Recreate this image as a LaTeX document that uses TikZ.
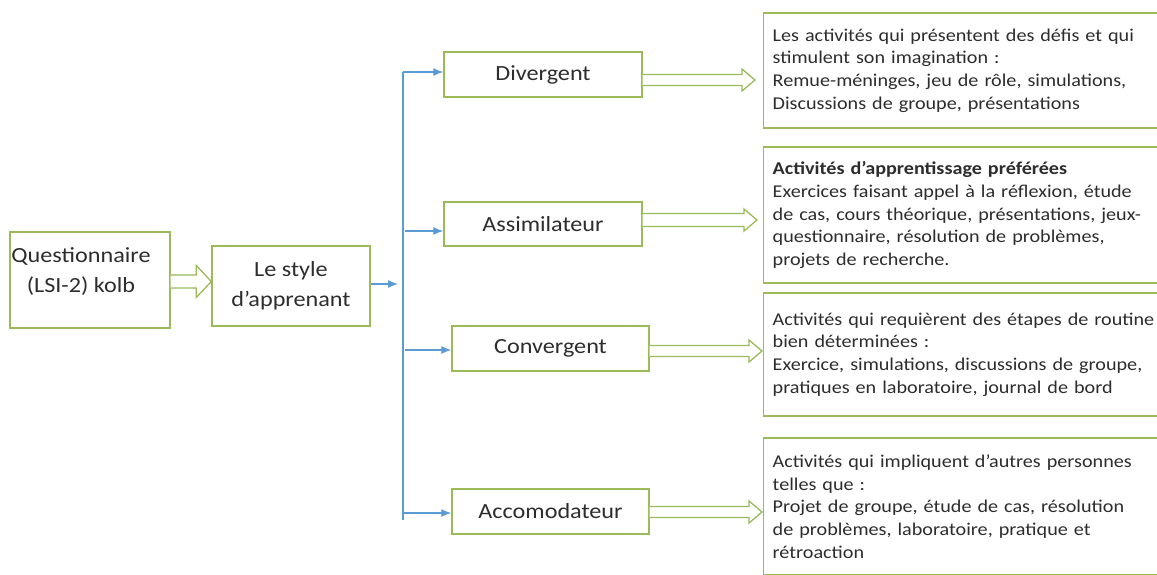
\documentclass[tikz,border=0pt]{standalone}
\usepackage{fontspec}
\setmainfont{Carlito}[FakeStretch=1.12]
\usetikzlibrary{arrows.meta,calc}
\definecolor{gline}{RGB}{155,187,89}
\definecolor{bline}{RGB}{91,155,213}
\definecolor{tcol}{RGB}{45,45,45}
\newcommand\harrow[7]{% #1 from, #2 to, #3 yshift, #4 gap, #5 shaft half, #6 head half, #7 head length
  \path[harrowline] let \p1=([yshift=#3]#1.east), \p2=(#2.west) in
    (\x1,\y1+#5pt) -- (\x2-#4pt-#7pt,\y1+#5pt) -- (\x2-#4pt-#7pt,\y1+#6pt) -- (\x2-#4pt,\y1)
    -- (\x2-#4pt-#7pt,\y1-#6pt) -- (\x2-#4pt-#7pt,\y1-#5pt) -- (\x1,\y1-#5pt);}
\begin{document}
\begin{tikzpicture}[x=1pt,y=-1pt,
  lbox/.style={draw=gline, line width=1.4pt, fill=white, text=tcol, align=center,
    font=\fontsize{21.6}{30}\selectfont, inner sep=0pt},
  ltext/.style={text=tcol, align=center, font=\fontsize{21.6}{30}\selectfont, inner sep=0pt},
  rbox/.style={draw=gline, line width=1.4pt, fill=white, text=tcol, align=left, anchor=west,
    text width=400pt, inner xsep=9pt, inner ysep=0pt,
    font=\fontsize{18}{22.7}\selectfont},
  harrowline/.style={draw=gline, line width=1.3pt, fill=white, line join=miter},
  barrow/.style={draw=bline, line width=1.3pt, -{Latex[length=10pt,width=8pt]}},
  bspine/.style={draw=bline, line width=1.3pt}]
\useasboundingbox (0,0) rectangle (1157,574);
\fill[white] (0,0) rectangle (1157,574);
\clip (0,0) rectangle (1157,574);
% left boxes
\node[lbox, minimum width=160pt, minimum height=96pt] (q) at (90,280) {};
\node[ltext] (qt) at (81,272) {Questionnaire\\(LSI-2) kolb};
\node[lbox, minimum width=158pt, minimum height=80pt] (sty) at (291,286) {Le style\\d’apprenant};
% middle boxes
\node[lbox, minimum width=198pt, minimum height=45pt] (div) at (543,74.5) {Divergent};
\node[lbox, minimum width=198pt, minimum height=44pt] (asm) at (543,224) {Assimilateur};
\node[lbox, minimum width=197pt, minimum height=45pt] (cnv) at (550.5,348.5) {Convergent};
\node[lbox, minimum width=197pt, minimum height=45pt] (acc) at (550.5,511.5) {Accomodateur};
% right boxes
\node[rbox, minimum height=115pt] (r1) at (763,70.5) {Les activités qui présentent des défis et qui\\
stimulent son imagination~:\\
Remue-méninges, jeu de rôle, simulations,\\
Discussions de groupe, présentations};
\node[rbox, minimum height=136pt] (r2) at (763,215) {\textbf{Activités d’apprentissage préférées}\\
Exercices faisant appel à la réflexion, étude\\
de cas, cours théorique, présentations, jeux-\\
questionnaire, résolution de problèmes,\\
projets de recherche.};
\node[rbox, minimum height=123pt] (r3) at (763,354.5) {Activités qui requièrent des étapes de routine\\
bien déterminées~:\\
Exercice, simulations, discussions de groupe,\\
pratiques en laboratoire, journal de bord};
\node[rbox, minimum height=137pt] (r4) at (763,506.5) {Activités qui impliquent d’autres personnes\\
telles que~:\\
Projet de groupe, étude de cas, résolution\\
de problèmes, laboratoire, pratique et\\
rétroaction};
% hollow arrows
\harrow{q}{sty}{-1.5pt}{0}{6.5}{16}{15}
\harrow{div}{r1}{-5.5pt}{8}{5.5}{11}{13}
\harrow{asm}{r2}{4pt}{6}{6.5}{11}{13}
\harrow{cnv}{r3}{-2.5pt}{1}{5.5}{11}{13}
\harrow{acc}{r4}{-0.5pt}{1}{5.5}{11}{13}
% blue connectors
\coordinate (sp0) at (403,284);
\coordinate (spt) at (403,72);
\coordinate (spb) at (403,520);
\coordinate (sp2) at (405,231);
\coordinate (sp3) at (405,350);
\coordinate (sp4) at (403,513);
\draw[barrow, shorten >=5pt] (sty.east |- sp0) -- (sp0);
\draw[bspine] (spb) -- (spt);
\draw[barrow] (spt) -- (spt -| div.west);
\draw[barrow] (sp2) -- (sp2 -| asm.west);
\draw[barrow] (sp3) -- (sp3 -| cnv.west);
\draw[barrow] (sp4) -- (sp4 -| acc.west);
\end{tikzpicture}
\end{document}
